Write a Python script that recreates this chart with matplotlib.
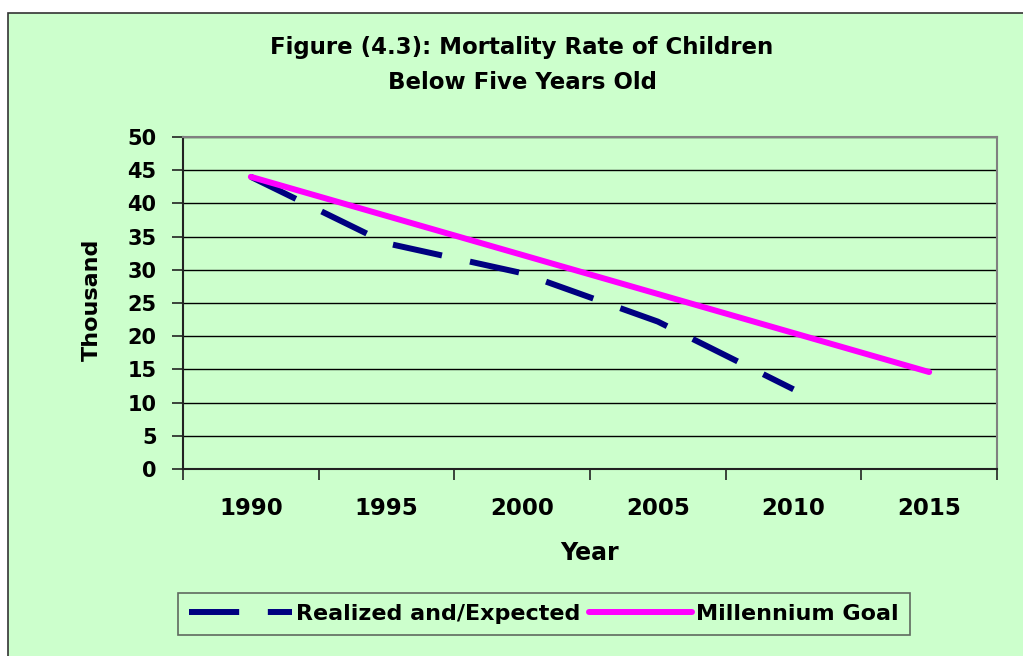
import matplotlib.pyplot as plt
from matplotlib.patches import Rectangle
import numpy as np

plt.rcParams['font.family'] = ['DejaVu Sans']

years = ['1990', '1995', '2000', '2005', '2010', '2015']
realized_years = ['1990', '1995', '2000', '2005', '2010']
realized = [44, 34, 29.5, 22.2, 12]
goal_years = ['1990', '2015']
goal = [44, 14.6]

bg = '#CCFFCC'
W, H = 1023, 656

fig = plt.figure(figsize=(W / 100, H / 100), dpi=100)
fig.patch.set_facecolor('white')
# chart frame (starts a little in from the top-left corner)
fig.patches.append(Rectangle((8 / W, -0.1), 1.2, 1.1 - 13 / H, transform=fig.transFigure,
                             facecolor=bg, edgecolor='#333333', linewidth=1.2, zorder=-5))

ax = fig.add_axes([183 / W, 1 - 469 / H, (997 - 183) / W, (469 - 137) / H])
ax.set_zorder(2)
ax.set_facecolor(bg)

xi = {y: i for i, y in enumerate(years)}
ax.plot([xi[y] for y in realized_years], realized, color='#000080', linewidth=4.3,
        dashes=(8.4, 4.8), solid_capstyle='butt', dash_capstyle='butt',
        label='Realized and/Expected', zorder=3)
ax.plot([xi[y] for y in goal_years], goal, color='#FF00FF', linewidth=4.3,
        solid_capstyle='round', label='Millennium Goal', zorder=4)

ax.set_xlim(-0.5, len(years) - 0.5)
ax.set_ylim(0, 50)
ax.set_yticks(np.arange(0, 51, 5))
ax.set_xticks(np.arange(len(years)))
ax.set_xticklabels(years)
ax.set_xticks(np.arange(-0.5, len(years), 1), minor=True)
ax.tick_params(axis='x', which='major', length=0, pad=20, labelsize=16.5)
ax.tick_params(axis='x', which='minor', length=8, width=1.2, color='#222222')
ax.tick_params(axis='y', length=8, width=1.2, color='#222222', labelsize=15, pad=11)
for lab in ax.get_xticklabels() + ax.get_yticklabels():
    lab.set_fontweight('bold')

ax.grid(axis='y', color='black', linewidth=1.0, zorder=1)
ax.set_axisbelow(True)
for s in ['top', 'right']:
    ax.spines[s].set_color('#808080')
    ax.spines[s].set_linewidth(1.5)
for s in ['left', 'bottom']:
    ax.spines[s].set_color('#222222')
    ax.spines[s].set_linewidth(1.5)

fig.text(522 / W, 1 - 65 / H, 'Figure (4.3): Mortality Rate of Children\nBelow Five Years Old',
         ha='center', va='center', fontsize=16.5, fontweight='bold', linespacing=1.65)
fig.text(590 / W, 1 - 553 / H, 'Year', ha='center', va='center', fontsize=17, fontweight='bold')
fig.text(92 / W, 1 - 300 / H, 'Thousand', ha='center', va='center', rotation=90,
         fontsize=16, fontweight='bold')

leg = fig.legend(loc='center', bbox_to_anchor=(544 / W, 1 - 614 / H), ncol=2,
                 frameon=True, fancybox=False, fontsize=16, handlelength=4.6,
                 handletextpad=0.2, columnspacing=0.4, borderpad=0.5)
leg.get_frame().set_facecolor(bg)
leg.get_frame().set_edgecolor('#444444')
leg.get_frame().set_linewidth(1.2)
for t in leg.get_texts():
    t.set_fontweight('bold')

fig.savefig('out.png', dpi=100, facecolor=fig.get_facecolor())
